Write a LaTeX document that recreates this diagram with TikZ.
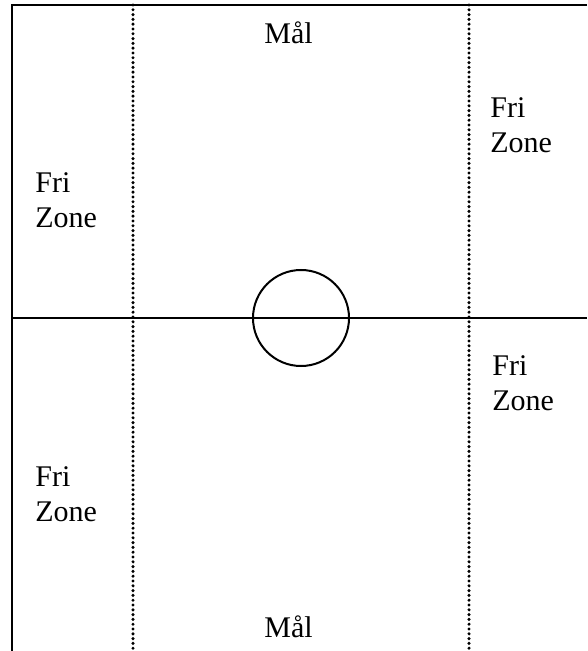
\documentclass[tikz,border=0pt]{standalone}
\usepackage{fontspec}
\setmainfont{Liberation Serif}
\usepackage{tikz}
\definecolor{fzink}{RGB}{0,0,0}
\tikzset{
  fzline/.style={draw=fzink, line width=1pt},
  fzdots/.style={draw=fzink, line width=1.7pt, line cap=round, dash pattern=on 0pt off 2.4pt},
  fzzone/.style={align=left, inner sep=0pt, anchor=north west, font=\fontsize{15}{17.3}\selectfont},
  fzgoal/.style={inner sep=0pt, anchor=base west, font=\fontsize{15}{17.3}\selectfont}
}
\begin{document}
\begin{tikzpicture}[x=0.5pt, y=-0.5pt]
  \useasboundingbox (0,0) rectangle (587,651);
  \coordinate (ne) at (587,5);
  \coordinate (nw) at (12,5);
  \coordinate (sw) at (12,651);
  \coordinate (mw) at (12,318);
  \coordinate (me) at (587,318);
  \draw[fzline] (ne) -- (nw) -- (sw);
  \draw[fzline] (mw) -- (me);
  \draw[fzdots] (133,5) -- (133,651);
  \draw[fzdots] (469,5) -- (469,651);
  \draw[fzline] (301,318) circle[radius=24pt];
  \node[fzgoal] (goaltop) at (264,44) {Mål};
  \node[fzgoal] (goalbot) at (264,637) {Mål};
  \node[fzzone] (freeul) at (35,172.5) {Fri\\Zone};
  \node[fzzone] (freeur) at (490,97.5) {Fri\\Zone};
  \node[fzzone] (freelr) at (492,355.5) {Fri\\Zone};
  \node[fzzone] (freell) at (35,466.5) {Fri\\Zone};
\end{tikzpicture}
\end{document}
